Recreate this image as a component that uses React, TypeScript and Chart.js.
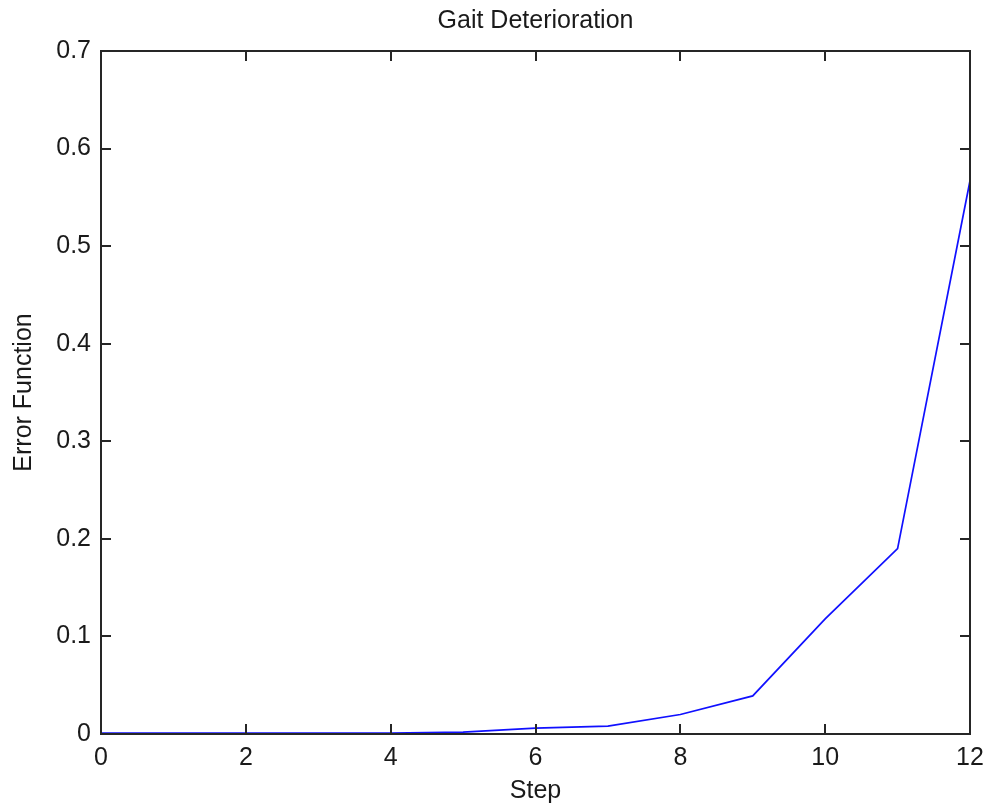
import React, { useEffect, useRef } from "react";
import { Chart, registerables } from "chart.js";

Chart.register(...registerables);

const steps = [0, 1, 2, 3, 4, 5, 6, 7, 8, 9, 10, 11, 12];
const errorValues = [0.001, 0.001, 0.001, 0.001, 0.001, 0.002, 0.006, 0.008, 0.02, 0.039, 0.118, 0.19, 0.567];
const titleText = "Gait Deterioration";
const xLabel = "Step";
const yLabel = "Error Function";

const FONT = "'Liberation Sans', Arial, sans-serif";
const FS = 25;
const AXIS_COLOR = "#262626";
const TEXT_COLOR = "#1a1a1a";

const boxTicksPlugin = {
  id: "boxTicks",
  afterDraw(chart: any) {
    const { ctx, chartArea, scales } = chart;
    const { left, right, top, bottom } = chartArea;
    const len = 10;
    ctx.save();
    ctx.strokeStyle = AXIS_COLOR;
    ctx.lineWidth = 2;
    ctx.strokeRect(left, top, right - left, bottom - top);
    ctx.beginPath();
    for (const t of scales.x.ticks) {
      const px = Math.round(scales.x.getPixelForValue(t.value));
      ctx.moveTo(px, bottom);
      ctx.lineTo(px, bottom - len);
      ctx.moveTo(px, top);
      ctx.lineTo(px, top + len);
    }
    for (const t of scales.y.ticks) {
      const py = Math.round(scales.y.getPixelForValue(t.value));
      ctx.moveTo(left, py);
      ctx.lineTo(left + len, py);
      ctx.moveTo(right, py);
      ctx.lineTo(right - len, py);
    }
    ctx.stroke();
    ctx.restore();
  },
};

export default function App() {
  const ref = useRef<HTMLCanvasElement | null>(null);
  useEffect(() => {
    if (!ref.current) return;
    const chart = new Chart(ref.current, {
      type: "line",
      data: {
        datasets: [
          {
            data: steps.map((s, i) => ({ x: s, y: errorValues[i] })),
            borderColor: "#1010ff",
            borderWidth: 1.7,
            pointRadius: 0,
            tension: 0,
            fill: false,
          },
        ],
      },
      options: {
        animation: false,
        responsive: false,
        maintainAspectRatio: false,
        layout: { padding: { left: 0, right: 20, top: 0, bottom: 0 } },
        plugins: {
          legend: { display: false },
          tooltip: { enabled: false },
          title: {
            display: true,
            text: titleText,
            fullSize: false,
            color: TEXT_COLOR,
            font: { family: FONT, size: FS, weight: "normal" },
            padding: { top: 6, bottom: 15 },
          },
        },
        scales: {
          x: {
            type: "linear",
            min: 0,
            max: 12,
            ticks: {
              stepSize: 2,
              color: TEXT_COLOR,
              font: { family: FONT, size: FS },
              padding: 9,
              maxRotation: 0,
            },
            grid: { display: false, drawTicks: false },
            border: { display: false },
            title: {
              display: true,
              text: xLabel,
              color: TEXT_COLOR,
              font: { family: FONT, size: FS },
              padding: { top: 0, bottom: 6 },
            },
            afterFit(scale: any) {
              scale.height = 78;
              scale.paddingLeft = 0;
              scale.paddingRight = 0;
            },
          },
          y: {
            type: "linear",
            min: 0,
            max: 0.7,
            ticks: {
              stepSize: 0.1,
              color: TEXT_COLOR,
              font: { family: FONT, size: FS },
              padding: 10,
            },
            grid: { display: false, drawTicks: false },
            border: { display: false },
            title: {
              display: true,
              text: yLabel,
              color: TEXT_COLOR,
              font: { family: FONT, size: FS },
              padding: { top: 9, bottom: 0 },
            },
            afterFit(scale: any) {
              scale.width = 101;
              scale.paddingTop = 0;
              scale.paddingBottom = 0;
            },
          },
        },
      },
      plugins: [boxTicksPlugin],
    });
    return () => chart.destroy();
  }, []);
  return (
    <div style={{ position: "absolute", left: 0, top: 0, width: 990, height: 812, background: "#fff" }}>
      <canvas ref={ref} width={990} height={812} style={{ display: "block" }} />
    </div>
  );
}
